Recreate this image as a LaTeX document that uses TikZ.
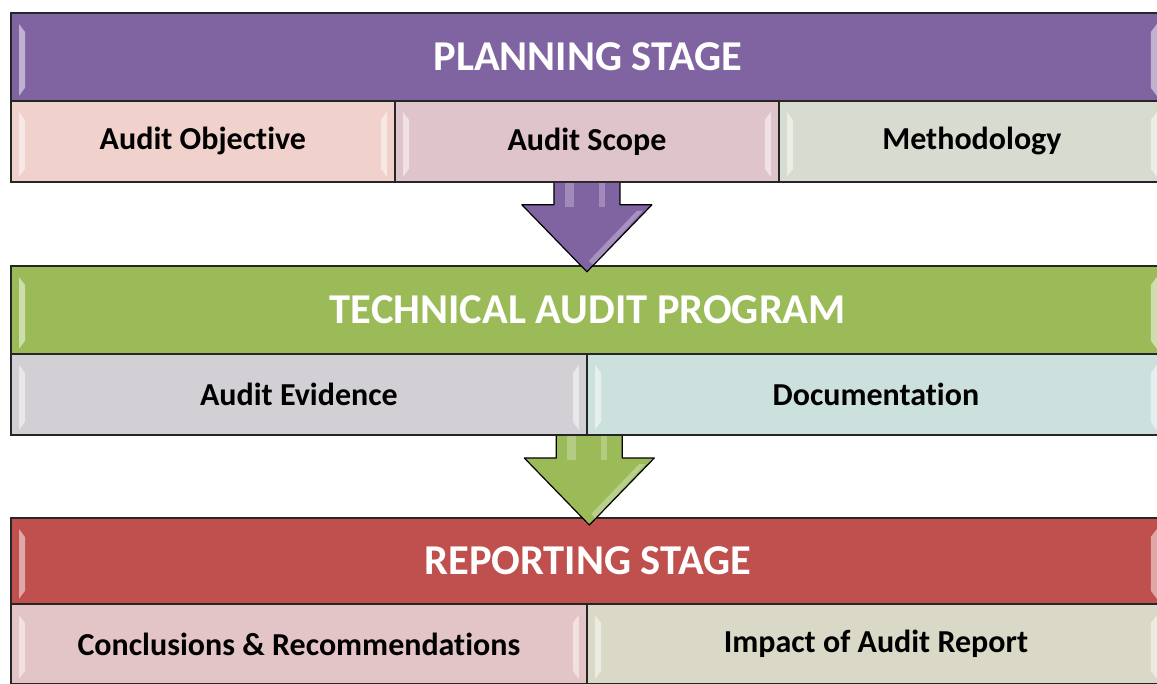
\documentclass[tikz,border=0pt]{standalone}
\usepackage{fontspec}
\setmainfont{Carlito}[Ligatures=NoCommon]
\usetikzlibrary{calc}
\definecolor{cPurple}{HTML}{8064A2}
\definecolor{cGreen}{HTML}{9BBB59}
\definecolor{cRed}{HTML}{C0504D}
\definecolor{cObj}{HTML}{F0D1CC}
\definecolor{cScope}{HTML}{DFC4CB}
\definecolor{cMeth}{HTML}{D8DBCF}
\definecolor{cEvid}{HTML}{D2D0D5}
\definecolor{cDoc}{HTML}{CCE0DE}
\definecolor{cConc}{HTML}{E3C4C7}
\definecolor{cImp}{HTML}{DAD8C6}
\tikzset{
  hdr/.style={draw=black!85, line width=1.8pt, rectangle, inner sep=0pt, anchor=north west,
    minimum height=88pt, text=white, font=\fontsize{42.5}{44}\selectfont\bfseries},
  sub/.style={draw=black!85, line width=1.8pt, rectangle, inner sep=0pt, anchor=north west,
    minimum height=81pt, text=black, font=\fontsize{32}{34}\selectfont\bfseries},
  bevel/.style={fill=white, opacity=0.5, draw=none},
  blockarrow/.style={draw=black, line width=1.2pt, line join=round},
}
\newcommand\bevelbox[1]{%
  \fill[bevel] ($(#1.north west)+(9,12)$) -- ($(#1.north west)+(15,20)$) -- ($(#1.south west)+(15,-14)$) -- ($(#1.south west)+(9,-6)$) -- cycle;
  \fill[bevel] ($(#1.north east)+(-9,12)$) -- ($(#1.north east)+(-15,20)$) -- ($(#1.south east)+(-15,-14)$) -- ($(#1.south east)+(-9,-6)$) -- cycle;
}
\newcommand\blockarr[3]{% from node #1 to node #2, colour #3
  \coordinate (s) at (#1.south);
  \filldraw[blockarrow, fill=#3]
    ($(s)+(-33,0)$) -- ($(s)+(-33,22)$) -- ($(s)+(-65,22)$) -- ($(s)+(0,89)$)
    -- ($(s)+(65,22)$) -- ($(s)+(33,22)$) -- ($(s)+(33,0)$);
  \fill[white, opacity=0.25] ($(s)+(-22,0)$) rectangle ($(s)+(-13,24)$);
  \fill[white, opacity=0.25] ($(s)+(12,0)$) rectangle ($(s)+(18,24)$);
  \fill[white, opacity=0.3] ($(s)+(50,28)$) -- ($(s)+(56,28)$) -- ($(s)+(6,82)$) -- ($(s)+(2,78)$) -- cycle;
}
\begin{document}
\begin{tikzpicture}[x=1pt,y=-1pt]
\useasboundingbox (0,0) rectangle (1157,683);
\clip (0,0) rectangle (1157,683);
\fill[white] (0,0) rectangle (1157,683);

% Planning stage
\node[hdr, fill=cPurple, minimum width=1154pt] (plan) at (10,12) {PLANNING STAGE};
\node[sub, fill=cObj, minimum width=384pt] (obj) at (10,100) {\raisebox{-2pt}{Audit Objective}};
\node[sub, fill=cScope, minimum width=384pt] (scope) at (394,100) {\raisebox{-2pt}{Audit Scope}};
\node[sub, fill=cMeth, minimum width=386pt] (meth) at (778,100) {\raisebox{-2pt}{Methodology}};

% Technical audit program
\node[hdr, fill=cGreen, minimum width=1154pt] (tech) at (10,265) {TECHNICAL AUDIT PROGRAM};
\node[sub, fill=cEvid, minimum width=576pt] (evid) at (10,353) {Audit Evidence};
\node[sub, fill=cDoc, minimum width=578pt] (doc) at (586,353) {Documentation};

% Reporting stage
\node[hdr, fill=cRed, minimum width=1154pt, minimum height=86pt] (rep) at (10,517) {REPORTING STAGE};
\node[sub, fill=cConc, minimum width=576pt, minimum height=80pt] (conc) at (10,603) {Conclusions \& Recommendations};
\node[sub, fill=cImp, minimum width=578pt, minimum height=80pt] (imp) at (586,603) {Impact of Audit Report};

\foreach \n in {plan,obj,scope,meth,tech,evid,doc,rep,conc,imp} {\bevelbox{\n}}

\blockarr{scope}{tech}{cPurple}
\coordinate (mid2) at ($(evid.south east)+(1.5,0)$);
\node[inner sep=0pt, minimum size=0pt] (evdoc) at (mid2) {};
\blockarr{evdoc}{rep}{cGreen}
\end{tikzpicture}
\end{document}
